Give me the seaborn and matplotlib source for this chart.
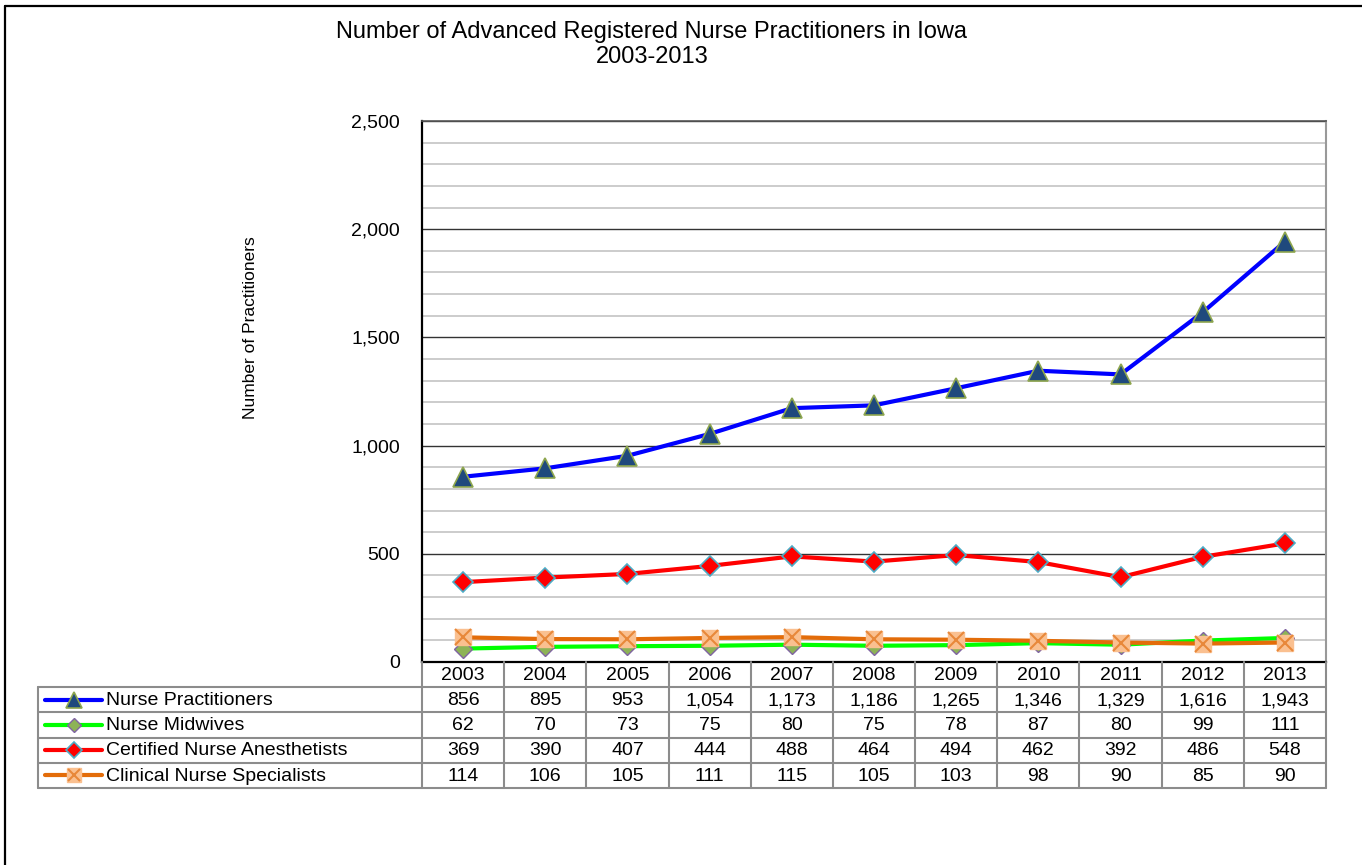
import numpy as np
import pandas as pd
import seaborn as sns
import matplotlib.pyplot as plt
from matplotlib.lines import Line2D

years = ['2003', '2004', '2005', '2006', '2007', '2008', '2009', '2010', '2011', '2012', '2013']
nurse_practitioners = [856, 895, 953, 1054, 1173, 1186, 1265, 1346, 1329, 1616, 1943]
nurse_midwives = [62, 70, 73, 75, 80, 75, 78, 87, 80, 99, 111]
nurse_anesthetists = [369, 390, 407, 444, 488, 464, 494, 462, 392, 486, 548]
nurse_specialists = [114, 106, 105, 111, 115, 105, 103, 98, 90, 85, 90]
series_names = ['Nurse Practitioners', 'Nurse Midwives',
                'Certified Nurse Anesthetists', 'Clinical Nurse Specialists']

sns.set_style('white')
plt.rcParams['font.family'] = ['Liberation Sans', 'DejaVu Sans']
plt.rcParams['text.color'] = 'black'
plt.rcParams['ytick.color'] = 'black'
plt.rcParams['ytick.labelcolor'] = 'black'

W, H = 1362, 865
fig = plt.figure(figsize=(W / 100, H / 100), dpi=100)

def fx(px):
    return px / W

def fy(py):
    return 1 - py / H

# outer border
fig.add_artist(Line2D([fx(5), fx(5)], [fy(6), 0], color='black', lw=1.6))
fig.add_artist(Line2D([fx(5), 1], [fy(6), fy(6)], color='black', lw=1.6))

ax = fig.add_axes([fx(422), fy(662), fx(1326) - fx(422), fy(121) - fy(662)])

df = pd.DataFrame({'x': np.arange(len(years))})
df['np'] = nurse_practitioners
df['nm'] = nurse_midwives
df['cna'] = nurse_anesthetists
df['cns'] = nurse_specialists

styles = {
    'np': dict(color='#0000FF', marker='^', mfc='#1F497D', mec='#8EA64E', ms=14, mew=1.2),
    'nm': dict(color='#00FF00', marker='D', mfc='#8DB356', mec='#8064A2', ms=9, mew=1.0),
    'cna': dict(color='#FF0000', marker='D', mfc='#FF0000', mec='#4BACC6', ms=10, mew=1.2),
    'cns': dict(color='#E36C09', marker='s', mfc='#FAC090', mec='#FAC090', ms=12, mew=1.0),
}
order = ['nm', 'cns', 'cna', 'np']
for key in order:
    st = styles[key]
    sns.lineplot(data=df, x='x', y=key, ax=ax, color=st['color'], lw=3,
                 marker=st['marker'], markerfacecolor=st['mfc'],
                 markeredgecolor=st['mec'], markersize=st['ms'],
                 markeredgewidth=st['mew'], zorder=3, clip_on=False)
    if key == 'cns':
        ax.plot(df['x'], df[key], ls='none', marker='x', color='#E8883A',
                ms=11, mew=1.5, zorder=4, clip_on=False)

ax.set_xlim(-0.5, len(years) - 0.5)
ax.set_ylim(0, 2500)
ax.set_xticks([])
ax.set_yticks(np.arange(0, 2501, 500))
ax.set_yticks(np.arange(0, 2501, 100), minor=True)
ax.set_yticklabels([f'{v:,}' for v in range(0, 2501, 500)], fontsize=14)
ax.tick_params(axis='y', which='both', length=0, pad=16, labelcolor='black')
ax.grid(axis='y', which='minor', color='#C8C8C8', lw=1.3, zorder=0)
ax.grid(axis='y', which='major', color='#333333', lw=1.0, zorder=1)
ax.set_axisbelow(True)
ax.set_xlabel('')
ax.set_ylabel('')
for side in ['left', 'bottom']:
    ax.spines[side].set_color('black')
    ax.spines[side].set_linewidth(1.6)
ax.spines['top'].set_color('#555555')
ax.spines['top'].set_linewidth(1.2)
ax.spines['right'].set_color('#999999')
ax.spines['right'].set_linewidth(1.5)

fig.text(fx(250), fy(328), 'Number of Practitioners', rotation=90,
         ha='center', va='center', fontsize=12.5)
fig.text(fx(652), fy(32), 'Number of Advanced Registered Nurse Practitioners in Iowa',
         ha='center', va='center', fontsize=17)
fig.text(fx(652), fy(57), '2003-2013', ha='center', va='center', fontsize=17)

# data table under the chart
col_w = (1326 - 422) / len(years)
lab_w = (422 - 38) / col_w
tax = fig.add_axes([fx(38), fy(788), fx(1326) - fx(38), fy(662) - fy(788)])
tax.set_xlim(-0.5 - lab_w, len(years) - 0.5)
tax.set_ylim(5, 0)
tax.axis('off')
grid_c = '#8C8C8C'
xl = -0.5 - lab_w
xr = len(years) - 0.5
for r in range(1, 6):
    tax.plot([xl, xr], [r, r], color=grid_c, lw=1.5, clip_on=False)
tax.plot([xl, xl], [1, 5], color=grid_c, lw=1.5, clip_on=False)
for c in range(len(years) + 1):
    tax.plot([c - 0.5, c - 0.5], [0, 5], color=grid_c, lw=1.5, clip_on=False)

for i, yr in enumerate(years):
    tax.text(i, 0.55, yr, ha='center', va='center', fontsize=14)

rows = [nurse_practitioners, nurse_midwives, nurse_anesthetists, nurse_specialists]
keys = ['np', 'nm', 'cna', 'cns']
gx0 = xl + (45 - 38) / col_w
gx1 = xl + (102 - 38) / col_w
gxm = (gx0 + gx1) / 2
for r, (name, vals, key) in enumerate(zip(series_names, rows, keys)):
    yc = r + 1.5
    st = styles[key]
    tax.plot([gx0, gx1], [yc, yc], color=st['color'], lw=3, clip_on=False)
    tax.plot([gxm], [yc], marker=st['marker'], mfc=st['mfc'], mec=st['mec'],
             ms=st['ms'] * 0.8, mew=st['mew'], clip_on=False)
    if key == 'cns':
        tax.plot([gxm], [yc], marker='x', color='#E8883A', ms=9, mew=1.5, clip_on=False)
    tax.text(xl + (106 - 38) / col_w, yc + 0.03, name, ha='left', va='center', fontsize=14)
    for i, v in enumerate(vals):
        tax.text(i, yc + 0.03, f'{v:,}', ha='center', va='center', fontsize=14)

fig.savefig('out.png', dpi=100)
